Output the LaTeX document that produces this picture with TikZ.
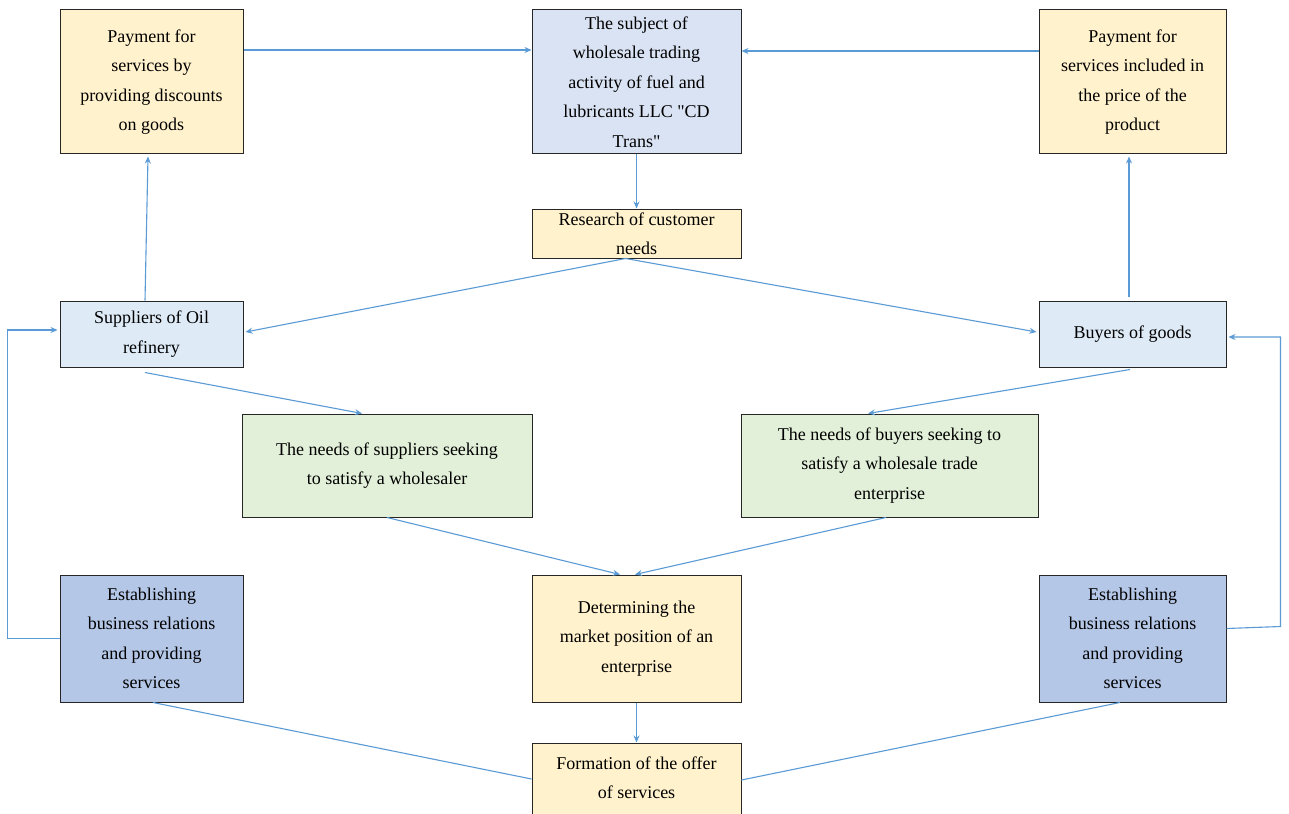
\documentclass[tikz,border=0pt]{standalone}
\usepackage{fontspec}
\setmainfont{Liberation Serif}[Ligatures=TeXOff]
\usetikzlibrary{arrows.meta}
\definecolor{cyel}{HTML}{FFF2CC}
\definecolor{clav}{HTML}{DAE3F3}
\definecolor{clbl}{HTML}{DEEBF7}
\definecolor{cgrn}{HTML}{E2F0D9}
\definecolor{cest}{HTML}{B4C7E7}
\definecolor{carr}{HTML}{5B9BD5}
\definecolor{cbrd}{HTML}{262626}
\begin{document}
\begin{tikzpicture}[x=1pt,y=-1pt,
  box/.style={draw=cbrd,line width=1pt,rectangle,inner sep=0pt,align=center,
    text=black,font=\fontsize{18}{29.5}\selectfont},
  arr/.style={draw=carr,line width=1.1pt,-{Stealth[length=7pt,width=6pt]}},
  ln/.style={draw=carr,line width=1.1pt}]
\useasboundingbox[fill=white] (0,0) rectangle (1289,813);
% boxes
\node[box,fill=cyel,minimum width=183pt,minimum height=144pt] (pay1) at (151.5,82)
  {Payment for\\services by\\providing discounts\\on goods};
\node[box,fill=clav,minimum width=209pt,minimum height=144pt] (subj) at (636.5,82)
  {The subject of\\wholesale trading\\activity of fuel and\\lubricants LLC "CD\\Trans"};
\node[box,fill=cyel,minimum width=187pt,minimum height=144pt] (pay2) at (1132.5,82)
  {Payment for\\services included in\\the price of the\\product};
\node[box,fill=cyel,minimum width=209pt,minimum height=49pt] (res) at (636.5,233.5)
  {Research of customer\\needs};
\node[box,fill=clbl,minimum width=183pt,minimum height=66pt] (sup) at (151.5,334)
  {Suppliers of Oil\\refinery};
\node[box,fill=clbl,minimum width=187pt,minimum height=66pt] (buy) at (1132.5,334)
  {Buyers of goods};
\node[box,fill=cgrn,minimum width=290pt,minimum height=103pt] (ns) at (387,465.5)
  {The needs of suppliers seeking\\to satisfy a wholesaler};
\node[box,fill=cgrn,minimum width=297pt,minimum height=103pt] (nb) at (889.5,465.5)
  {The needs of buyers seeking to\\satisfy a wholesale trade\\enterprise};
\node[box,fill=cest,minimum width=183pt,minimum height=127pt] (el) at (151.5,638.5)
  {Establishing\\business relations\\and providing\\services};
\node[box,fill=cyel,minimum width=209pt,minimum height=127pt] (det) at (636.5,638.5)
  {Determining the\\market position of an\\enterprise};
\node[box,fill=cest,minimum width=187pt,minimum height=127pt] (er) at (1132.5,638.5)
  {Establishing\\business relations\\and providing\\services};
\node[box,fill=cyel,minimum width=209pt,minimum height=76pt] (form) at (636.5,781) {};
\node[box,draw=none] (formtxt) at (636.5,777.5) {Formation of the offer\\of services};
% connectors
\draw[arr] ([yshift=32pt]pay1.east) -- ([yshift=32pt]subj.west);
\draw[arr] ([yshift=31pt]pay2.west) -- ([yshift=31pt]subj.east);
\draw[arr] (subj.south) -- (res.north);
\draw[arr] ([xshift=-11pt]res.south) -- ([yshift=2pt,xshift=2pt]sup.east);
\draw[arr] ([xshift=-11pt]res.south) -- ([yshift=2pt,xshift=-2pt]buy.west);
\draw[arr] ([xshift=-6.5pt]sup.north) -- ([xshift=-3.5pt,yshift=-2pt]pay1.south);
\draw[arr] ([xshift=-3.5pt,yshift=4pt]buy.north) -- ([xshift=-3.5pt,yshift=-2pt]pay2.south);
\draw[arr] ([xshift=-6.5pt,yshift=-5pt]sup.south) -- ([xshift=-25pt]ns.north);
\draw[arr] ([xshift=-2.5pt,yshift=-2pt]buy.south) -- ([xshift=-21.5pt]nb.north);
\draw[arr] (ns.south) -- ([xshift=-16.5pt]det.north);
\draw[arr] ([xshift=-3.5pt]nb.south) -- ([xshift=-1.5pt]det.north);
\draw[arr] (el.west) -- ++(-52,0) |- ([yshift=4pt,xshift=-2pt]sup.west);
\draw[arr] ([yshift=10pt]er.east) -- ++(54,-2) |- ([yshift=-3pt,xshift=2pt]buy.east);
\draw[arr] (det.south) -- (form.north);
\draw[ln] ([xshift=1.5pt]el.south) -- ([yshift=2pt]form.west);
\draw[ln] ([xshift=-12.5pt]er.south) -- ([yshift=1pt]form.east);
\end{tikzpicture}
\end{document}
